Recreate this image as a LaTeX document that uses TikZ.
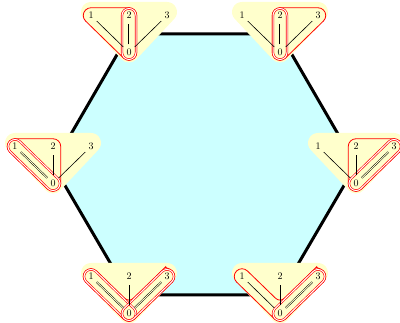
\documentclass[tikz,border=0pt]{standalone}
\usetikzlibrary{calc}
\pgfdeclarelayer{hexlayer}
\pgfdeclarelayer{padlayer}
\pgfsetlayers{hexlayer,padlayer,main}
\definecolor{padyellow}{RGB}{255,255,204}
\definecolor{hexcyan}{RGB}{204,255,255}
\tikzset{
  lbl/.style={circle, inner sep=2.6pt, font=\fontsize{10}{12}\selectfont},
  edge/.style={draw=black, line width=0.6pt},
  dedge/.style={draw=black, line width=0.45pt, double=padyellow, double distance=0.9pt},
  tube/.style={draw=red, line width=0.8pt},
  dtube/.style={draw=red, line width=0.65pt, double=white, double distance=1pt},
  hexside/.style={draw=black, fill=hexcyan, line width=3pt, line join=miter},
  padstyle/.style={fill=padyellow, draw=padyellow, line width=20pt, line join=round},
}
% labels and pad of one small diagram: prefix, x, y (y measured downwards)
\newcommand\diaglabels[3]{%
  \coordinate (#1) at ({#2},{323-#3});
  \node[lbl] (#1-1) at ($(#1)+(-38,18.5)$) {1};
  \node[lbl] (#1-2) at ($(#1)+(0,18.5)$) {2};
  \node[lbl] (#1-3) at ($(#1)+(38,18.5)$) {3};
  \node[lbl] (#1-0) at ($(#1)+(0,-18.5)$) {0};
  \begin{pgfonlayer}{padlayer}
    \path[padstyle] ($(#1-1)+(0,3.5)$) -- ($(#1-3)+(0,3.5)$) -- (#1-0.center) -- cycle;
  \end{pgfonlayer}}
% sausage around nodes #1 and #2; #3 = direction from #2 to #1; #4 = radius
\newcommand\sausage[4]{($(#1)+(#3-90:#4)$) -- ($(#2)+(#3-90:#4)$)
  arc[start angle=#3-90,end angle=#3-270,radius=#4]
  -- ($(#1)+(#3+90:#4)$) arc[start angle=#3+90,end angle=#3-90,radius=#4] -- cycle}
% hull of 1,2,0
\newcommand\hulla[2]{($(#1-1)+(90:#2)$) -- ($(#1-2)+(90:#2)$)
  arc[start angle=90,end angle=0,radius=#2] -- ($(#1-0)+(0:#2)$)
  arc[start angle=0,end angle=-135,radius=#2] -- ($(#1-1)+(225:#2)$)
  arc[start angle=225,end angle=90,radius=#2] -- cycle}
% hull of 2,3,0
\newcommand\hullb[2]{($(#1-2)+(90:#2)$) -- ($(#1-3)+(90:#2)$)
  arc[start angle=90,end angle=-45,radius=#2] -- ($(#1-0)+(-45:#2)$)
  arc[start angle=-45,end angle=-180,radius=#2] -- ($(#1-2)+(180:#2)$)
  arc[start angle=180,end angle=90,radius=#2] -- cycle}
% V-shaped hull of 1,0,3
\newcommand\hullv[2]{($(#1-1)+(45:#2)$) [rounded corners=6pt] -- ($(#1-0)+(90:1.414*#2)$)
  -- ($(#1-3)+(135:#2)$) [sharp corners]
  arc[start angle=135,end angle=-45,radius=#2] -- ($(#1-0)+(-45:#2)$)
  arc[start angle=-45,end angle=-135,radius=#2] -- ($(#1-1)+(225:#2)$)
  arc[start angle=225,end angle=45,radius=#2] -- cycle}
\begin{document}
\begin{tikzpicture}[x=1pt,y=1pt]
\useasboundingbox (0,0) rectangle (400,323);

% top left
\diaglabels{tl}{129}{34}
\draw[tube] \hulla{tl}{7.75pt};
\draw[dtube] \sausage{tl-2}{tl-0}{90}{7pt};
\draw[edge] (tl-0) -- (tl-1);
\draw[dedge] (tl-0) -- (tl-2);
\draw[edge] (tl-0) -- (tl-3);

% top right
\diaglabels{tr}{280}{34}
\draw[tube] \hullb{tr}{7.75pt};
\draw[dtube] \sausage{tr-2}{tr-0}{90}{7pt};
\draw[edge] (tr-0) -- (tr-1);
\draw[dedge] (tr-0) -- (tr-2);
\draw[edge] (tr-0) -- (tr-3);

% middle left
\diaglabels{ml}{53}{165}
\draw[tube] \hulla{ml}{7.75pt};
\draw[dtube] \sausage{ml-1}{ml-0}{135}{7pt};
\draw[dedge] (ml-0) -- (ml-1);
\draw[edge] (ml-0) -- (ml-2);
\draw[edge] (ml-0) -- (ml-3);

% middle right
\diaglabels{mr}{356}{165}
\draw[tube] \hullb{mr}{7.75pt};
\draw[dtube] \sausage{mr-3}{mr-0}{45}{7pt};
\draw[edge] (mr-0) -- (mr-1);
\draw[edge] (mr-0) -- (mr-2);
\draw[dedge] (mr-0) -- (mr-3);

% bottom left
\diaglabels{bl}{129}{295}
\draw[tube] \hullv{bl}{7.75pt};
\draw[dtube] \sausage{bl-1}{bl-0}{135}{7pt};
\draw[dtube] \sausage{bl-3}{bl-0}{45}{7pt};
\draw[dedge] (bl-0) -- (bl-1);
\draw[edge] (bl-0) -- (bl-2);
\draw[dedge] (bl-0) -- (bl-3);

% bottom right
\diaglabels{br}{280}{295}
\draw[tube] \hullv{br}{7.75pt};
\draw[dtube] \sausage{br-3}{br-0}{45}{7pt};
\draw[edge] (br-0) -- (br-1);
\draw[edge] (br-0) -- (br-2);
\draw[dedge] (br-0) -- (br-3);

% hexagon
\begin{pgfonlayer}{hexlayer}
  \path[hexside] (tl) -- (tr) -- (mr) -- (br) -- (bl) -- (ml) -- cycle;
\end{pgfonlayer}
\end{tikzpicture}
\end{document}
